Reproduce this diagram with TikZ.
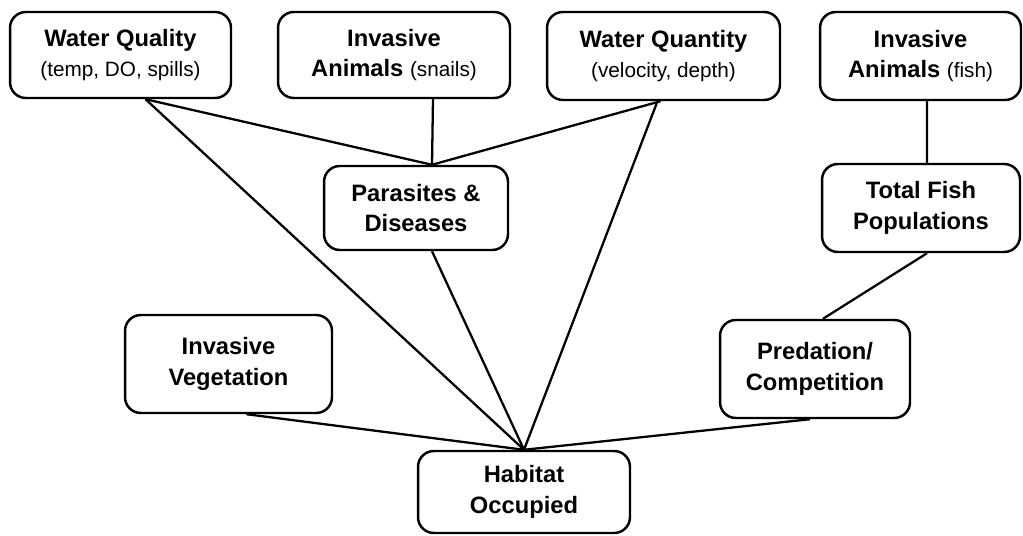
\documentclass[tikz,border=0pt]{standalone}
\usepackage{fontspec}
\setmainfont{Liberation Sans}
\usetikzlibrary{positioning}
\tikzset{
	% box style
	factor/.style={draw=black,line width=1.4pt,rounded corners=9pt,align=center,
		inner sep=2pt,font=\fontsize{13.5}{17.5}\selectfont\bfseries},
	% connector style
	link/.style={line width=1.3pt},
}
\newcommand{\detail}[1]{{\mdseries\fontsize{11.8}{17.5}\selectfont #1}}
\begin{document}
\begin{tikzpicture}[x=0.02cm,y=-0.02cm]
\useasboundingbox (0,0) rectangle (1023,536);
% the top row
\node[factor,minimum width=4.42cm,minimum height=1.72cm] (quality) at (120.5,55) {Water Quality\\\detail{(temp, DO, spills)}};
\node[factor,minimum width=4.64cm,minimum height=1.72cm] (snails) at (394,55) {Invasive\\Animals \detail{(snails)}};
\node[factor,minimum width=4.66cm,minimum height=1.76cm] (quantity) at (663.5,56) {Water Quantity\\\detail{(velocity, depth)}};
\node[factor,minimum width=4.02cm,minimum height=1.76cm] (fish) at (920.5,56) {Invasive\\Animals \detail{(fish)}};
% the middle
\node[factor,minimum width=3.68cm,minimum height=1.68cm] (parasites) at (416,208) {Parasites \&\\Diseases};
\node[factor,minimum width=3.96cm,minimum height=1.76cm] (total) at (921,208) {Total Fish\\Populations};
\node[factor,minimum width=4.14cm,minimum height=1.96cm] (vegetation) at (228.5,364) {Invasive\\Vegetation};
\node[factor,minimum width=3.80cm,minimum height=1.96cm] (predation) at (815,369) {Predation/\\Competition};
% the bottom
\node[factor,minimum width=4.24cm,minimum height=1.64cm] (habitat) at (524,492) {Habitat\\Occupied};
% the links
\draw[link] ([xshift=0.5cm]quality.south) -- ([xshift=0.32cm]parasites.north);
\draw[link] ([xshift=0.5cm]quality.south) -- (habitat.north);
\draw[link] ([xshift=0.78cm]snails.south) -- ([xshift=0.32cm]parasites.north);
\draw[link] ([xshift=-0.06cm]quantity.south) -- ([xshift=0.32cm]parasites.north);
\draw[link] ([xshift=-0.12cm]quantity.south) -- (habitat.north);
\draw[link] ([xshift=0.32cm]parasites.south) -- (habitat.north);
\draw[link] ([xshift=0.36cm]vegetation.south) -- (habitat.north);
\draw[link] ([xshift=-0.1cm]predation.south) -- (habitat.north);
\draw[link] ([xshift=0.13cm]fish.south) -- ([xshift=0.12cm]total.north);
\draw[link] ([xshift=0.12cm]total.south) -- ([xshift=0.16cm]predation.north);
\end{tikzpicture}
\end{document}
